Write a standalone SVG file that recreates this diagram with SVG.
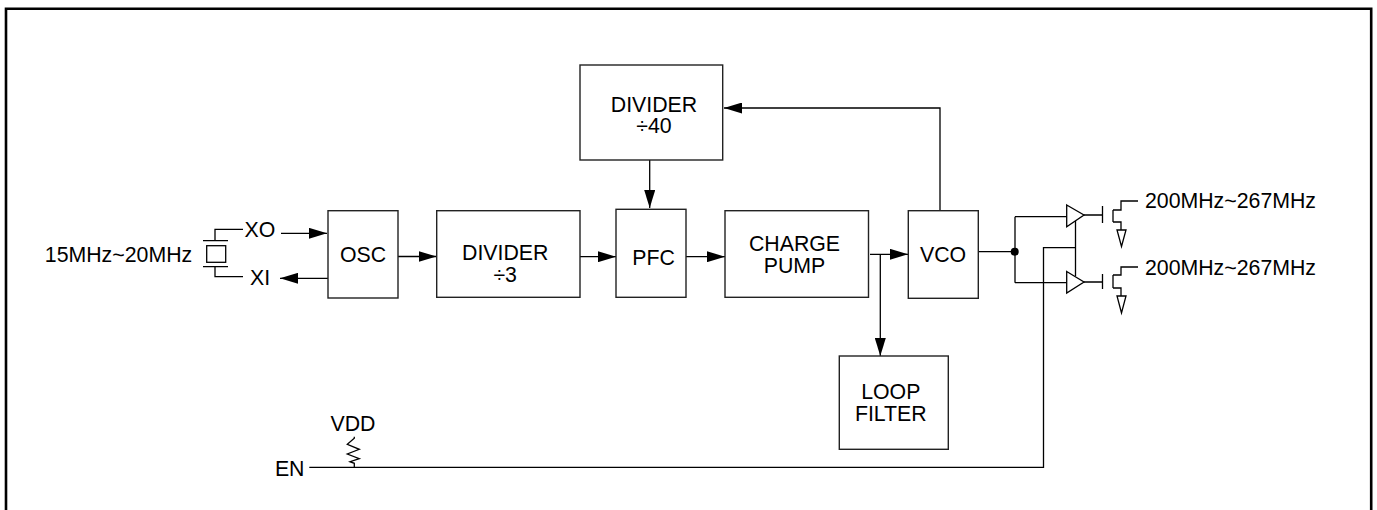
<svg xmlns="http://www.w3.org/2000/svg" width="1377" height="510" viewBox="0 0 1377 510">
<defs>
<style>
text{font-family:"Liberation Sans",Arial,sans-serif;font-size:21.3px;fill:#000;text-anchor:middle}
.b{fill:#fff;stroke:#222;stroke-width:1.4}
.l{fill:none;stroke:#000;stroke-width:1.3}
.t{fill:#fff;stroke:#000;stroke-width:1.3}
</style>
<marker id="a" markerUnits="userSpaceOnUse" markerWidth="18" markerHeight="11" refX="18" refY="5.500" orient="auto"><path d="M0 0L18 5.500L0 11Z" fill="#000"/></marker>
</defs>
<rect width="1377" height="510" fill="#fff"/>
<path d="M6 510V8.700H1371.200V510" fill="none" stroke="#000" stroke-width="2.600"/>
<g id="connectors">
<path class="l" d="M281 233.300H327" marker-end="url(#a)"/>
<path class="l" d="M328 278.300H280" marker-end="url(#a)"/>
<path class="l" d="M398 256.500H436.500" marker-end="url(#a)"/>
<path class="l" d="M578 256.700H616" marker-end="url(#a)"/>
<path class="l" d="M686 256.700H725" marker-end="url(#a)"/>
<path class="l" d="M870 254.300H908" marker-end="url(#a)"/>
<path class="l" d="M649.700 160V208" marker-end="url(#a)"/>
<path class="l" d="M880.300 254.300V356" marker-end="url(#a)"/>
<path class="l" d="M940 210.700V108H724" marker-end="url(#a)"/>
<path class="l" d="M979 251.700H1015M1015 216.700V282.700M1015 216.700H1067M1015 282.700H1067"/>
<path class="l" d="M1075.500 221V276M1075.500 247.700H1043.500V467.300H309.300"/>
<path class="l" d="M215 240.700V229.300H243M215 266.700V276.700H243"/>
<circle cx="1014.700" cy="251.700" r="4" fill="#000"/>
</g>
<g id="crystal">
<path class="l" d="M203 240.700H228M203 266.700H228"/>
<rect class="l" x="206.700" y="245.700" width="19" height="16.600"/>
</g>
<g id="osc"><rect class="b" x="328" y="210.700" width="70" height="87.300"/><text x="363" y="262">OSC</text></g>
<g id="div3"><rect class="b" x="436.700" y="210.700" width="143.300" height="86.600"/><text x="505.200" y="260">DIVIDER</text><text x="505.200" y="281.700">÷3</text></g>
<g id="div40"><rect class="b" x="580" y="65" width="142.700" height="95"/><text x="654" y="111.700">DIVIDER</text><text x="654" y="133">÷40</text></g>
<g id="pfc"><rect class="b" x="616" y="209.300" width="70" height="88"/><text x="653.500" y="265">PFC</text></g>
<g id="pump"><rect class="b" x="725" y="210.700" width="143.500" height="86.600"/><text x="794.500" y="250.700">CHARGE</text><text x="794.500" y="272.700">PUMP</text></g>
<g id="vco"><rect class="b" x="908.300" y="210.700" width="70" height="87.600"/><text x="943" y="261.700">VCO</text></g>
<g id="loop"><rect class="b" x="839.300" y="356" width="109" height="93.300"/><text x="890.800" y="399">LOOP</text><text x="890.800" y="420.700">FILTER</text></g>
<g id="buf1"><path class="t" d="M1066.700 205L1084 215L1066.700 226.700Z"/></g>
<g id="buf2"><path class="t" d="M1066.700 271.500L1084 282L1066.700 293Z"/></g>
<g id="fet1"><path class="l" d="M1084 215H1102M1102.500 206V223M1113 210V222M1113 210H1121V201H1138M1113 222H1121V230"/><path class="l" d="M1117 230H1126L1121.500 246.500Z"/></g>
<g id="fet2"><path class="l" d="M1084 282H1102M1102.500 274V289M1113 275V288M1113 275H1121V267H1138M1113 288H1121V296"/><path class="l" d="M1117 296H1126L1121.500 313Z"/></g>
<g id="res"><path class="l" d="M354.300 436.700V438.300L347.300 444.300L359.300 449.300L347.300 454L359.300 458.700L350 461.700L354.300 463.300V467.300"/></g>
<g id="labels">
<text x="118.500" y="261.700">15MHz~20MHz</text>
<text x="260" y="236.700">XO</text>
<text x="260" y="285">XI</text>
<text x="353" y="430.700">VDD</text>
<text x="289.700" y="475.700">EN</text>
<text x="1230.500" y="208.300">200MHz~267MHz</text>
<text x="1230.500" y="275">200MHz~267MHz</text>
</g>
</svg>
